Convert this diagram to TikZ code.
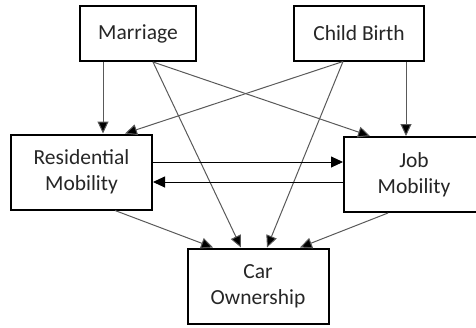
\documentclass[tikz,border=0pt]{standalone}
\usepackage{fontspec}
\setmainfont{Carlito}
\usetikzlibrary{arrows.meta}
\tikzset{
	box/.style={draw=black,line width=2pt,fill=white,minimum width=#1,minimum height=75pt,
		align=center,inner sep=0pt,text=black!85,font=\fontsize{21.5}{26}\selectfont},
	link/.style={draw=black!65,line width=1pt,-{Triangle[length=12pt,width=11pt,fill=black]}},
	flow/.style={draw=black,line width=0.9pt,-{Triangle[length=12pt,width=11pt]}},
}
\begin{document}
\begin{tikzpicture}[x=1pt,y=-1pt]
	\useasboundingbox (0,0) rectangle (476,327);
	\node[box=116pt,minimum height=55pt] (marr) at (138,33.5) {Marriage};
	\node[box=130pt,minimum height=55pt] (birth) at (359,33) {Child Birth};
	\node[box=141pt] (res) at (81.5,172) {Residential\\Mobility};
	\node[box=140pt] (job) at (414,174.5) {Job\\Mobility};
	\node[box=141pt] (car) at (258,286) {Car\\Ownership};
	% from the two life events
	\draw[link] ([xshift=-35pt]marr.south) -- ([xshift=21.5pt]res.north);
	\draw[link] ([xshift=15pt]marr.south) -- ([xshift=-44pt]job.north);
	\draw[link] ([xshift=15pt]marr.south) -- ([xshift=-17pt]car.north);
	\draw[link] ([xshift=-16pt]birth.south) -- ([xshift=43.5pt]res.north);
	\draw[link] ([xshift=-16pt]birth.south) -- ([xshift=9pt]car.north);
	\draw[link] ([xshift=47pt]birth.south) -- ([xshift=-8pt]job.north);
	% between the two mobilities
	\draw[flow] ([yshift=10pt]res.east) -- ([yshift=12.5pt]job.west);
	\draw[flow] ([yshift=-7.5pt]job.west) -- ([yshift=-10pt]res.east);
	% to car ownership
	\draw[link] ([xshift=33.5pt]res.south) -- ([xshift=-45pt]car.north);
	\draw[link] ([xshift=-26pt]job.south) -- ([xshift=42pt]car.north);
\end{tikzpicture}
\end{document}
